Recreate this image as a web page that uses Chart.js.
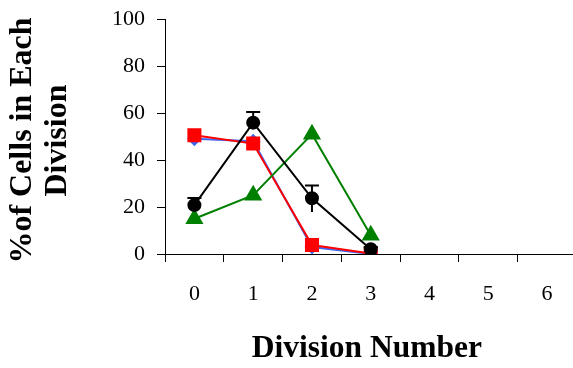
<!DOCTYPE html>
<html>
<head>
<meta charset="utf-8">
<script src="https://cdn.jsdelivr.net/npm/chart.js@4"></script>
<style>
html,body{margin:0;padding:0;overflow:hidden;background:#fff;}
#wrap{width:587px;height:368px;position:relative;}
</style>
</head>
<body>
<div id="wrap"><canvas id="c"></canvas></div>
<script>
const categories = ['0','1','2','3','4','5','6'];
const blueSeries = [49, 48, 3, 0];
const redSeries = [50.5, 47, 3.8, 0.2];
const greenSeries = [15, 25, 51, 8];
const blackSeries = [20.8, 55.9, 23.7, 2];
const blackErrUp = [3, 4.5, 5.5, 1];
const blackErrDown = [0, 0, 5.8, 0];
const yTicks = [0, 20, 40, 60, 80, 100];

const errorBars = {
  id: 'errorBars',
  afterDatasetsDraw(chart) {
    const meta = chart.getDatasetMeta(3);
    const y = chart.scales.y;
    const ctx = chart.ctx;
    ctx.save();
    ctx.strokeStyle = '#000';
    ctx.lineWidth = 2;
    meta.data.forEach((pt, i) => {
      const v = blackSeries[i];
      const top = y.getPixelForValue(v + blackErrUp[i]);
      const bot = y.getPixelForValue(v - blackErrDown[i]);
      ctx.beginPath();
      ctx.moveTo(pt.x, bot);
      ctx.lineTo(pt.x, top);
      ctx.moveTo(pt.x - 7, top);
      ctx.lineTo(pt.x + 7, top);
      ctx.stroke();
    });
    ctx.restore();
  }
};

const serif = 'Liberation Serif, Times New Roman, serif';

new Chart(document.getElementById('c'), {
  type: 'line',
  data: {
    labels: categories,
    datasets: [
      { label: 'blue', data: blueSeries, borderColor: '#3f66f2', backgroundColor: '#3f66f2', pointStyle: 'rectRot', pointRadius: 6, borderWidth: 2, order: 3 },
      { label: 'red', data: redSeries, borderColor: '#ff0000', backgroundColor: '#ff0000', pointStyle: 'rect', pointRadius: 8.5, borderWidth: 2, order: 2 },
      { label: 'green', data: greenSeries, borderColor: '#008000', backgroundColor: '#008000', pointStyle: 'triangle', pointRadius: 8.5, borderWidth: 2, order: 1 },
      { label: 'black', data: blackSeries, borderColor: '#000000', backgroundColor: '#000000', pointStyle: 'circle', pointRadius: 6, borderWidth: 2, order: 0 }
    ]
  },
  options: {
    responsive: true,
    maintainAspectRatio: false,
    animation: false,
    layout: { padding: { top: 19, right: 2, left: 0, bottom: 0 } },
    plugins: { legend: { display: false }, tooltip: { enabled: false } },
    elements: { line: { tension: 0 }, point: { borderWidth: 1 } },
    scales: {
      x: {
        type: 'category',
        offset: true,
        grid: { offset: true, drawOnChartArea: false, drawTicks: true, tickLength: 8, color: '#000', lineWidth: 1 },
        border: { color: '#000', width: 1 },
        ticks: { color: '#000', font: { family: serif, size: 22 }, padding: 19, maxRotation: 0 },
        title: { display: true, text: 'Division Number ', color: '#000', font: { family: serif, size: 31.5, weight: 'bold', lineHeight: 1.1 }, padding: { top: 0, bottom: 2 } },
        afterFit(s) { s.height = 114; s.paddingLeft = 0; s.paddingRight = 0; }
      },
      y: {
        min: 0, max: 100,
        afterBuildTicks(s) { s.ticks = yTicks.map(v => ({ value: v })); },
        grid: { drawOnChartArea: false, drawTicks: true, tickLength: 8, color: '#000', lineWidth: 1 },
        border: { color: '#000', width: 1 },
        ticks: { color: '#000', font: { family: serif, size: 22 }, padding: 12 },
        title: { display: true, text: ['%of Cells in Each ', 'Division '], color: '#000', font: { family: serif, size: 32, weight: 'bold', lineHeight: 1.1 }, padding: { top: 5, bottom: 0 } },
        afterFit(s) { s.width = 165; s.paddingTop = 0; s.paddingBottom = 0; }
      }
    }
  },
  plugins: [errorBars]
});
</script>
</body>
</html>
